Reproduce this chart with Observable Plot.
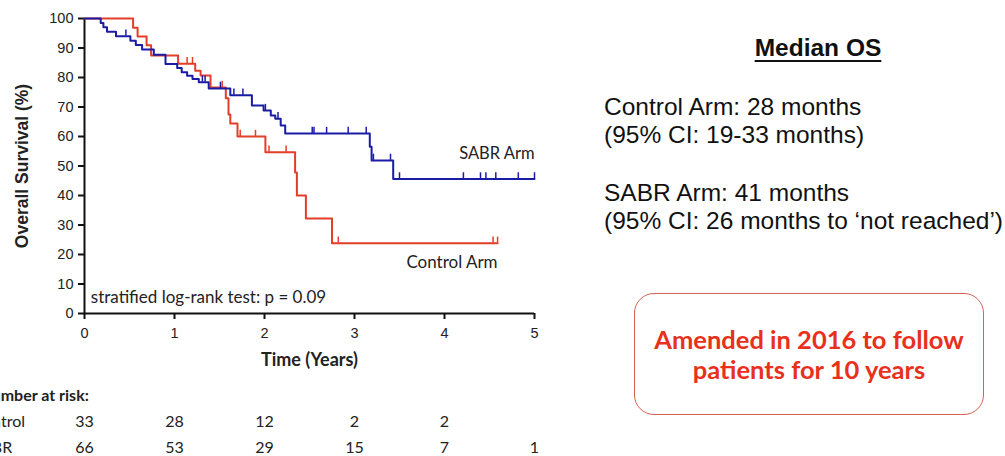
<!DOCTYPE html>
<html>
<head>
<meta charset="utf-8">
<script src="https://cdn.jsdelivr.net/npm/d3@7"></script>
<script src="https://cdn.jsdelivr.net/npm/@observablehq/plot@0.6"></script>
<style>
  html, body { margin: 0; padding: 0; background: #fff; width: 1005px; height: 456px; overflow: hidden; }
  #wrap { position: relative; width: 1005px; height: 456px; }
  #km { position: absolute; left: 0; top: 0; }
  #risk { position: absolute; left: 0; top: 378px; }
  .os { position: absolute; font-family: "Liberation Sans", Arial, sans-serif; color: #111; font-size: 24.5px; line-height: 28px; white-space: nowrap; }
  #osTitle { left: 693px; width: 250px; top: 34px; text-align: center; font-weight: bold; text-decoration: underline; text-underline-offset: 4px; }
  #note { position: absolute; left: 634px; top: 293px; width: 350px; height: 122px; box-sizing: border-box;
          border: 1.5px solid rgb(214, 96, 84); border-radius: 20px; display: flex; flex-direction: column;
          align-items: center; justify-content: center;
          text-align: center; font-family: Lato, "Open Sans", sans-serif; font-weight: bold; font-size: 25.5px; line-height: 30px; color: rgb(232, 48, 28); }
  svg text { fill: #222; }
</style>
</head>
<body>
<div id="wrap">
  <div id="km"></div>
  <div id="risk"></div>
  <div id="osTitle" class="os"></div>
  <div id="osLines"></div>
  <div id="note"></div>
</div>
<script>
// Kaplan–Meier estimates: event times (years) and survival (%) after each step
const controlTimes = [0, 0.54, 0.59, 0.69, 0.74, 1.04, 1.23, 1.29, 1.40, 1.57, 1.60, 1.62, 1.70, 2.01, 2.34, 2.36, 2.46, 2.75, 4.59];
const controlSurv  = [100, 96.9, 93.9, 90.9, 87.5, 84.7, 82.3, 80.7, 76.6, 73.0, 67.5, 64.4, 60.0, 54.7, 47.8, 40.0, 32.2, 23.8, 23.8];
const controlCensored = [1.14, 1.20, 1.53, 1.73, 1.90, 2.05, 2.24, 2.82, 4.54, 4.59];

const sabrTimes = [0, 0.18, 0.21, 0.25, 0.35, 0.51, 0.57, 0.64, 0.77, 0.90, 1.03, 1.08, 1.14, 1.20, 1.27, 1.38, 1.62, 1.86, 1.99, 2.07, 2.12, 2.18, 2.23, 3.17, 3.19, 3.43, 5.0];
const sabrSurv  = [100, 98.5, 97.0, 95.5, 94.0, 92.5, 91.0, 89.5, 87.7, 84.6, 83.2, 81.8, 80.6, 79.5, 78.4, 76.3, 74.0, 70.5, 68.8, 67.1, 66.0, 63.7, 61.0, 56.5, 51.9, 45.6, 45.6];
const sabrCensored = [0.46, 1.31, 1.34, 1.51, 1.66, 1.76, 2.01, 2.15, 2.53, 2.55, 2.69, 2.93, 3.13, 3.21, 3.40, 3.50, 4.21, 4.40, 4.46, 4.57, 4.82, 5.0];

const armNames = ["Control Arm", "SABR Arm"];
const armColors = ["rgb(226, 62, 40)", "rgb(26, 28, 166)"];

const xTicks = [0, 1, 2, 3, 4, 5];
const yTicks = [0, 10, 20, 30, 40, 50, 60, 70, 80, 90, 100];

// Number at risk
const riskRows = ["Control", "SABR"];
const riskYears = [0, 1, 2, 3, 4, 5];
const riskControl = [33, 28, 12, 2, 2, null];
const riskSabr = [66, 53, 29, 15, 7, 1];

const pValueText = "stratified log-rank test: p = 0.09";
const medianTitle = "Median OS";
const medianLines = [
  ["Control Arm: 28 months", "(95% CI: 19-33 months)"],
  ["SABR Arm: 41 months", "(95% CI: 26 months to \u2018not reached\u2019)"]
];
const noteLines = ["Amended in 2016 to follow", "patients for 10 years"];

// ---- build tables for the marks ----
const curves = [];
const censorMarks = [];
function survivalAt(times, surv, t) {
  let s = surv[0];
  for (let i = 0; i < times.length; i++) if (times[i] <= t) s = surv[i];
  return s;
}
[[controlTimes, controlSurv, controlCensored], [sabrTimes, sabrSurv, sabrCensored]].forEach(([ts, ss, cs], k) => {
  ts.forEach((t, i) => curves.push({arm: armNames[k], t, s: ss[i]}));
  cs.forEach(t => censorMarks.push({arm: armNames[k], t, s: survivalAt(ts, ss, t)}));
});

const labelFont = "Lato, 'Open Sans', sans-serif";
const axisFont = "'Liberation Sans', Arial, sans-serif";
const tickFont = 14.5;

const km = Plot.plot({
  width: 560,
  height: 378,
  marginLeft: 84,
  marginRight: 26,
  marginTop: 18,
  marginBottom: 65,
  style: {fontFamily: axisFont, color: "#222", background: "#fff"},
  x: {domain: [0, 5]},
  y: {domain: [0, 100]},
  color: {domain: armNames, range: armColors},
  marks: [
    // tick marks only; their labels are drawn below as text marks
    Plot.axisY({ticks: yTicks, tickSize: 6, tickFormat: () => "", strokeWidth: 2, stroke: "#111", label: null}),
    Plot.axisX({ticks: xTicks, tickSize: 6, tickFormat: () => "", strokeWidth: 2, stroke: "#111", label: null}),
    Plot.text(yTicks, {x: 0, y: d => d, text: d => String(d), textAnchor: "end", dx: -11, fontSize: tickFont, fontFamily: axisFont}),
    Plot.text(xTicks, {x: d => d, y: 0, text: d => String(d), dy: 20, fontSize: tickFont, fontFamily: axisFont}),
    Plot.ruleX([0], {stroke: "#111", strokeWidth: 2}),
    Plot.ruleY([0], {stroke: "#111", strokeWidth: 2}),
    Plot.line(curves, {x: "t", y: "s", z: "arm", stroke: "arm", curve: "step-after", strokeWidth: 2}),
    Plot.ruleX(censorMarks, {x: "t", y1: "s", y2: d => d.s + 2.1, stroke: "arm", strokeWidth: 1.5}),
    // series labels
    Plot.text([armNames[1]], {x: 5, y: 54.2, text: d => d, textAnchor: "end", fontFamily: labelFont, fontSize: 16.5}),
    Plot.text([armNames[0]], {x: 4.59, y: 17.3, text: d => d, textAnchor: "end", fontFamily: labelFont, fontSize: 17}),
    Plot.text([pValueText], {x: 0.07, y: 5.4, text: d => d, textAnchor: "start", fontFamily: labelFont, fontSize: 17}),
    // axis titles
    Plot.text(["Overall Survival (%)"], {frameAnchor: "left", textAnchor: "middle", dx: -62, rotate: -90, text: d => d, fontWeight: "bold", fontSize: 17.5, fontFamily: axisFont}),
    Plot.text(["Time (Years)"], {frameAnchor: "bottom", dy: 52, text: d => d, fontWeight: "bold", fontSize: 18, fontFamily: labelFont})
  ]
});
document.getElementById("km").appendChild(km);

// Number-at-risk table shares the time scale of the curves
const riskData = [];
riskYears.forEach((yr, i) => {
  if (riskControl[i] != null) riskData.push({row: riskRows[0], t: yr, n: riskControl[i]});
  if (riskSabr[i] != null) riskData.push({row: riskRows[1], t: yr, n: riskSabr[i]});
});
const risk = Plot.plot({
  width: 560,
  height: 78,
  marginLeft: 84,
  marginRight: 26,
  marginTop: 0,
  marginBottom: 0,
  style: {fontFamily: labelFont, fontSize: "16px", color: "#222", background: "transparent", overflow: "hidden"},
  x: {domain: [0, 5], axis: null},
  y: {type: "point", domain: ["header", ...riskRows], range: [17, 69], padding: 0, axis: null},
  marks: [
    Plot.text(riskData, {x: "t", y: "row", text: "n", fontSize: 16}),
    Plot.text(riskRows, {x: 0, y: d => d, text: d => d, textAnchor: "start", dx: -112, fontSize: 16}),
    Plot.text(["Number at risk:"], {x: 0, y: () => "header", text: d => d, textAnchor: "start", dx: -105, fontWeight: "bold", fontSize: 16})
  ]
});
document.getElementById("risk").appendChild(risk);

// Median OS summary
document.getElementById("osTitle").textContent = medianTitle;
const linesHost = document.getElementById("osLines");
const groupTops = [93, 179];
medianLines.forEach((group, g) => {
  group.forEach((line, j) => {
    const div = document.createElement("div");
    div.className = "os";
    div.style.left = "604px";
    div.style.top = (groupTops[g] + 28 * j) + "px";
    div.textContent = line;
    linesHost.appendChild(div);
  });
});

// Protocol amendment note
document.getElementById("note").innerHTML = noteLines.map(l => `<div>${l}</div>`).join("");
</script>
</body>
</html>
